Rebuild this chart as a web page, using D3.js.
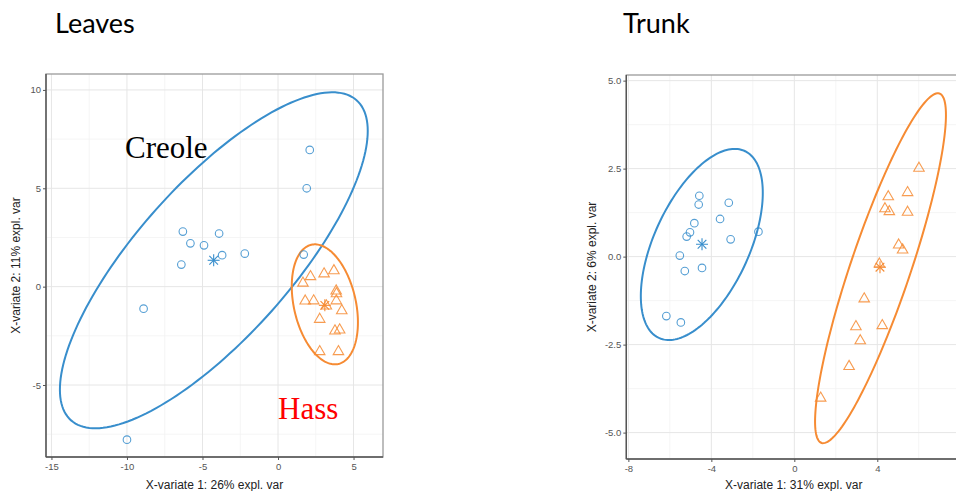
<!DOCTYPE html>
<html>
<head>
<meta charset="utf-8">
<script src="https://cdn.jsdelivr.net/npm/d3@7"></script>
<style>
  html, body { margin: 0; padding: 0; background: #fff; }
  svg { display: block; }
</style>
</head>
<body>
<svg id="chart" width="956" height="491"></svg>
<script>
// ---------------- DATA ----------------
const panelTitles = ["Leaves", "Trunk"];
const xAxisTitles = ["X-variate 1: 26% expl. var", "X-variate 1: 31% expl. var"];
const yAxisTitles = ["X-variate 2: 11% expl. var", "X-variate 2: 6% expl. var"];

// Leaves panel
const leavesXDomain = [-15.36, 6.95];
const leavesYDomain = [-8.66, 10.81];
const leavesXTicks = [-15, -10, -5, 0, 5];
const leavesYTicks = [-5, 0, 5, 10];
const leavesXMinor = [-12.5, -7.5, -2.5, 2.5];
const leavesYMinor = [-7.5, -2.5, 2.5, 7.5];
const leavesCreole = [
  [2.1, 6.95], [1.9, 5.0], [-6.3, 2.8], [-3.9, 2.7], [-5.8, 2.2], [-4.9, 2.1],
  [-3.7, 1.6], [-2.2, 1.68], [-6.4, 1.12], [1.7, 1.63], [-8.9, -1.12], [-10.0, -7.78]
];
const leavesHass = [
  [1.65, 0.18], [2.15, 0.51], [3.05, 0.65], [3.7, 0.81], [3.85, -0.22], [3.87, -0.36],
  [1.8, -0.73], [2.36, -0.72], [3.86, -0.72], [3.2, -0.98], [4.22, -1.22], [2.76, -1.66],
  [3.77, -2.25], [4.08, -2.2], [2.76, -3.3], [4.0, -3.3]
];
const leavesCentroids = [[-4.26, 1.34], [3.1, -0.95]];
// ellipse: [cx, cy, half x-extent, half y-extent, correlation]
const leavesEllipses = [[-4.25, 1.34, 10.19, 8.54, 0.77], [3.1, -0.9, 2.19, 3.05, -0.3]];
const leavesLabels = ["Creole", "Hass"];

// Trunk panel
const trunkXDomain = [-8.1, 8.05];
const trunkYDomain = [-5.75, 5.16];
const trunkXTicks = [-8, -4, 0, 4, 8];
const trunkYTicks = [-5, -2.5, 0, 2.5, 5];
const trunkXMinor = [-6, -2, 2, 6];
const trunkYMinor = [-3.75, -1.25, 1.25, 3.75];
const trunkCreole = [
  [-4.58, 1.73], [-4.61, 1.48], [-3.16, 1.53], [-3.58, 1.07], [-4.82, 0.95], [-5.03, 0.69],
  [-5.19, 0.57], [-3.07, 0.49], [-1.73, 0.71], [-5.52, 0.03], [-5.28, -0.41], [-4.45, -0.32],
  [-6.17, -1.69], [-5.47, -1.87]
];
const trunkHass = [
  [6.01, 2.51], [5.46, 1.82], [4.53, 1.7], [4.37, 1.36], [4.58, 1.28], [5.46, 1.26],
  [5.03, 0.33], [5.22, 0.19], [4.1, -0.21], [3.37, -1.2], [2.97, -1.99], [4.24, -1.96],
  [3.18, -2.39], [2.64, -3.12], [1.27, -4.02]
];
const trunkCentroids = [[-4.45, 0.35], [4.13, -0.3]];
const trunkEllipses = [[-4.46, 0.345, 2.94, 2.715, 0.54], [4.155, -0.33, 3.155, 4.97, 0.876]];

const groupColors = ["#388ECC", "#F68B33"];

// ---------------- DRAW ----------------
const svg = d3.select("#chart");

const panels = [
  {
    box: { x0: 46, x1: 383, y0: 74, y1: 457 },
    xd: leavesXDomain, yd: leavesYDomain, xt: leavesXTicks, yt: leavesYTicks,
    xm: leavesXMinor, ym: leavesYMinor, creole: leavesCreole, hass: leavesHass,
    cent: leavesCentroids, ell: leavesEllipses, xfmt: d3.format("d"), yfmt: d3.format("d"),
    title: panelTitles[0], titleX: 55, xTitle: xAxisTitles[0], yTitle: yAxisTitles[0], yTitleX: 16,
    labels: true
  },
  {
    box: { x0: 626.3, x1: 961.3, y0: 75, y1: 459 },
    xd: trunkXDomain, yd: trunkYDomain, xt: trunkXTicks, yt: trunkYTicks,
    xm: trunkXMinor, ym: trunkYMinor, creole: trunkCreole, hass: trunkHass,
    cent: trunkCentroids, ell: trunkEllipses, xfmt: d3.format("d"), yfmt: d3.format(".1f"),
    title: panelTitles[1], titleX: 623, xTitle: xAxisTitles[1], yTitle: yAxisTitles[1], yTitleX: 592,
    labels: false
  }
];

panels.forEach((p, i) => {
  const b = p.box;
  const x = d3.scaleLinear().domain(p.xd).range([b.x0, b.x1]);
  const y = d3.scaleLinear().domain(p.yd).range([b.y1, b.y0]);
  const g = svg.append("g");

  // title
  svg.append("text").attr("x", p.titleX).attr("y", 33)
    .attr("font-family", "Lato, 'Open Sans', sans-serif").attr("font-size", 27)
    .attr("fill", "#000").text(p.title);

  const clipId = "clip" + i;
  svg.append("clipPath").attr("id", clipId).append("rect")
    .attr("x", b.x0).attr("y", b.y0).attr("width", b.x1 - b.x0).attr("height", b.y1 - b.y0);

  // background
  g.append("rect").attr("x", b.x0).attr("y", b.y0).attr("width", b.x1 - b.x0).attr("height", b.y1 - b.y0)
    .attr("fill", "#fff");

  const grid = g.append("g");
  grid.selectAll(".vm").data(p.xm).join("line")
    .attr("x1", d => x(d)).attr("x2", d => x(d)).attr("y1", b.y0).attr("y2", b.y1)
    .attr("stroke", "#f3f3f3").attr("stroke-width", 0.8);
  grid.selectAll(".hm").data(p.ym).join("line")
    .attr("y1", d => y(d)).attr("y2", d => y(d)).attr("x1", b.x0).attr("x2", b.x1)
    .attr("stroke", "#f3f3f3").attr("stroke-width", 0.8);
  grid.selectAll(".vM").data(p.xt).join("line")
    .attr("x1", d => x(d)).attr("x2", d => x(d)).attr("y1", b.y0).attr("y2", b.y1)
    .attr("stroke", "#e6e6e6").attr("stroke-width", 1);
  grid.selectAll(".hM").data(p.yt).join("line")
    .attr("y1", d => y(d)).attr("y2", d => y(d)).attr("x1", b.x0).attr("x2", b.x1)
    .attr("stroke", "#e6e6e6").attr("stroke-width", 1);

  const plot = g.append("g").attr("clip-path", `url(#${clipId})`);

  // ellipses
  const ts = d3.range(0, 2 * Math.PI, Math.PI / 90);
  const line = d3.line().curve(d3.curveLinearClosed);
  p.ell.forEach((e, k) => {
    const [cx, cy, rx, ry, rho] = e;
    const dlt = Math.acos(rho);
    const pts = ts.map(t => [x(cx + rx * Math.cos(t)), y(cy + ry * Math.cos(t - dlt))]);
    plot.append("path").attr("d", line(pts)).attr("fill", "none")
      .attr("stroke", groupColors[k]).attr("stroke-width", 2);
  });

  // creole circles
  plot.selectAll(".c").data(p.creole).join("circle")
    .attr("cx", d => x(d[0])).attr("cy", d => y(d[1])).attr("r", 3.8)
    .attr("fill", "none").attr("stroke", groupColors[0]).attr("stroke-width", 1.1)
    .attr("stroke-opacity", 0.85);

  // hass triangles
  const tri = d3.symbol().type(d3.symbolTriangle).size(48);
  plot.selectAll(".t").data(p.hass).join("path")
    .attr("d", tri).attr("transform", d => `translate(${x(d[0])},${y(d[1])})`)
    .attr("fill", "none").attr("stroke", groupColors[1]).attr("stroke-width", 1.1)
    .attr("stroke-opacity", 0.85);

  // centroid asterisks
  p.cent.forEach((c, k) => {
    const cx = x(c[0]), cy = y(c[1]), r = 6, r2 = r * 0.72;
    const segs = [[-r, 0, r, 0], [0, -r, 0, r], [-r2, -r2, r2, r2], [-r2, r2, r2, -r2]];
    plot.selectAll(null).data(segs).join("line")
      .attr("x1", s => cx + s[0]).attr("y1", s => cy + s[1])
      .attr("x2", s => cx + s[2]).attr("y2", s => cy + s[3])
      .attr("stroke", groupColors[k]).attr("stroke-width", 1.1);
  });

  // border
  g.append("rect").attr("x", b.x0).attr("y", b.y0).attr("width", b.x1 - b.x0).attr("height", b.y1 - b.y0)
    .attr("fill", "none").attr("stroke", "#9a9a9a").attr("stroke-width", 1.3);
  g.append("line").attr("x1", b.x0).attr("x2", b.x0).attr("y1", b.y0).attr("y2", b.y1)
    .attr("stroke", "#555").attr("stroke-width", 1.4);
  g.append("line").attr("x1", b.x0).attr("x2", b.x1).attr("y1", b.y1).attr("y2", b.y1)
    .attr("stroke", "#555").attr("stroke-width", 1.4);

  // axes
  const xAxis = d3.axisBottom(x).tickValues(p.xt).tickFormat(p.xfmt).tickSize(3).tickPadding(3);
  const yAxis = d3.axisLeft(y).tickValues(p.yt).tickFormat(p.yfmt).tickSize(3).tickPadding(2);
  const gx = g.append("g").attr("transform", `translate(0,${b.y1})`).call(xAxis);
  const gy = g.append("g").attr("transform", `translate(${b.x0},0)`).call(yAxis);
  [gx, gy].forEach(a => {
    a.select(".domain").remove();
    a.selectAll(".tick line").attr("stroke", "#555");
    a.selectAll(".tick text").attr("fill", "#555").attr("font-size", 9.5)
      .attr("font-family", "'Liberation Sans', Arial, sans-serif")
      .text(function () { return d3.select(this).text().replace("\u2212", "-"); });
  });

  // axis titles
  g.append("text").attr("x", (b.x0 + b.x1) / 2).attr("y", 489)
    .attr("text-anchor", "middle").attr("font-family", "'Liberation Sans', Arial, sans-serif")
    .attr("font-size", 12).attr("fill", "#222").text(p.xTitle);
  g.append("text").attr("transform", `translate(${p.yTitleX},${(b.y0 + b.y1) / 2}) rotate(-90)`)
    .attr("text-anchor", "middle").attr("dominant-baseline", "central")
    .attr("font-family", "'Liberation Sans', Arial, sans-serif")
    .attr("font-size", 12).attr("fill", "#222").text(p.yTitle);

  if (p.labels) {
    svg.append("text").attr("x", 125).attr("y", 158)
      .attr("font-family", "'Liberation Serif', 'Times New Roman', serif").attr("font-size", 31)
      .attr("fill", "#000").text(leavesLabels[0]);
    svg.append("text").attr("x", 278).attr("y", 419)
      .attr("font-family", "'Liberation Serif', 'Times New Roman', serif").attr("font-size", 31)
      .attr("fill", "#ff0000").text(leavesLabels[1]);
  }
});
</script>
</body>
</html>
